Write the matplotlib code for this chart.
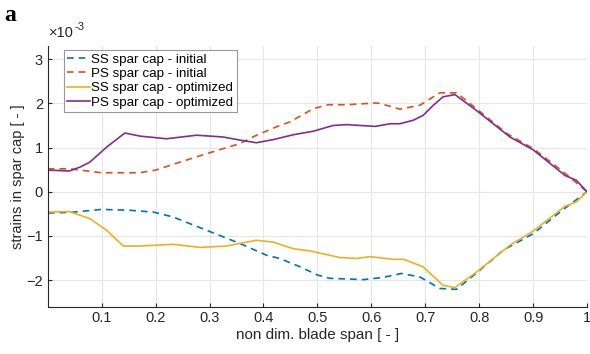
import numpy as np
import matplotlib
matplotlib.use("Agg")
import matplotlib.pyplot as plt

plt.rcParams['font.family'] = ['Liberation Sans', 'DejaVu Sans']

# strains are in units of 1e-3
ps_init_x = [0.0, 0.04, 0.10, 0.17, 0.20, 0.245, 0.294, 0.356, 0.387, 0.43, 0.449, 0.492, 0.52,
             0.554, 0.607, 0.616, 0.653, 0.69, 0.727, 0.758, 0.795, 0.851, 0.90, 0.956, 1.0]
ps_init_y = [0.52, 0.52, 0.43, 0.43, 0.49, 0.67, 0.86, 1.09, 1.28, 1.50, 1.58, 1.88, 1.97,
             1.97, 2.01, 2.00, 1.87, 1.96, 2.24, 2.24, 1.88, 1.32, 0.98, 0.45, 0.0]

ps_opt_x = [0.0, 0.04, 0.06, 0.078, 0.109, 0.143, 0.171, 0.22, 0.276, 0.325, 0.356, 0.387, 0.418,
            0.455, 0.492, 0.529, 0.554, 0.607, 0.635, 0.653, 0.678, 0.696, 0.715, 0.733, 0.755,
            0.795, 0.857, 0.90, 0.959, 0.98, 1.0]
ps_opt_y = [0.49, 0.47, 0.56, 0.67, 1.01, 1.33, 1.26, 1.20, 1.28, 1.24, 1.17, 1.11, 1.18,
            1.29, 1.37, 1.50, 1.52, 1.48, 1.54, 1.54, 1.62, 1.73, 1.96, 2.15, 2.20,
            1.84, 1.24, 0.95, 0.37, 0.26, 0.0]

ss_init_x = [0.0, 0.04, 0.10, 0.152, 0.196, 0.232, 0.294, 0.356, 0.406, 0.43, 0.468, 0.501, 0.523,
             0.585, 0.622, 0.656, 0.69, 0.727, 0.758, 0.795, 0.845, 0.90, 0.956, 1.0]
ss_init_y = [-0.48, -0.47, -0.40, -0.42, -0.46, -0.57, -0.87, -1.17, -1.44, -1.51, -1.70, -1.89, -1.96,
             -1.99, -1.94, -1.85, -1.93, -2.19, -2.21, -1.84, -1.32, -0.95, -0.40, 0.0]

ss_opt_x = [0.0, 0.04, 0.078, 0.109, 0.14, 0.171, 0.232, 0.282, 0.331, 0.356, 0.387, 0.418, 0.455,
            0.486, 0.542, 0.573, 0.597, 0.641, 0.66, 0.696, 0.733, 0.755, 0.795, 0.857, 0.90,
            0.959, 0.98, 1.0]
ss_opt_y = [-0.46, -0.45, -0.61, -0.87, -1.23, -1.23, -1.19, -1.26, -1.23, -1.17, -1.10, -1.14, -1.29,
            -1.34, -1.49, -1.51, -1.47, -1.53, -1.53, -1.70, -2.12, -2.17, -1.82, -1.21, -0.89,
            -0.33, -0.23, 0.0]

fig = plt.figure(figsize=(5.9, 3.54), dpi=100)
ax = fig.add_axes([0.081, 0.134, 0.914, 0.736])

ax.plot(ss_init_x, ss_init_y, '--', color='#0072BD', lw=1.2, dashes=(4, 3), label='SS spar cap - initial')
ax.plot(ps_init_x, ps_init_y, '--', color='#D95319', lw=1.2, dashes=(4, 3), label='PS spar cap - initial')
ax.plot(ss_opt_x, ss_opt_y, '-', color='#EDB120', lw=1.2, label='SS spar cap - optimized')
ax.plot(ps_opt_x, ps_opt_y, '-', color='#7E2F8E', lw=1.2, label='PS spar cap - optimized')

ax.set_xlim(0, 1)
ax.set_ylim(-2.6, 3.3)
ax.set_xticks(np.arange(0.1, 1.01, 0.1))
ax.set_xticklabels(['0.1', '0.2', '0.3', '0.4', '0.5', '0.6', '0.7', '0.8', '0.9', '1'])
ax.set_yticks([-2, -1, 0, 1, 2, 3])
ax.grid(True, color='#e6e6e6', lw=0.8)
ax.set_axisbelow(True)
for s in ['top', 'right']:
    ax.spines[s].set_visible(False)
for s in ['left', 'bottom']:
    ax.spines[s].set_color('#262626')
ax.tick_params(direction='in', labelsize=10.5, colors='#262626', length=3)

ax.set_xlabel('non dim. blade span [ - ]', fontsize=11, color='#262626', labelpad=2)
ax.set_ylabel('strains in spar cap [ - ]', fontsize=10.5, color='#262626', labelpad=1)

# exponent label above the y axis
ax.annotate('\u00d710', xy=(0, 1), xycoords='axes fraction', xytext=(1, 4),
            textcoords='offset points', fontsize=10.5, color='#262626', ha='left', va='bottom')
ax.annotate('-3', xy=(0, 1), xycoords='axes fraction', xytext=(19.5, 10),
            textcoords='offset points', fontsize=8, color='#262626', ha='left', va='bottom')
fig.text(0.008, 0.985, 'a', fontsize=17, fontweight='bold', family='Liberation Serif',
         ha='left', va='top')

leg = ax.legend(loc='upper left', bbox_to_anchor=(0.03, 0.985), fontsize=9.6, handlelength=1.7,
                handletextpad=0.1, borderpad=0.25, labelspacing=0.15, fancybox=False,
                framealpha=1, edgecolor='#999999', borderaxespad=0)
leg.get_frame().set_linewidth(0.8)

fig.savefig('out.png', dpi=100)
